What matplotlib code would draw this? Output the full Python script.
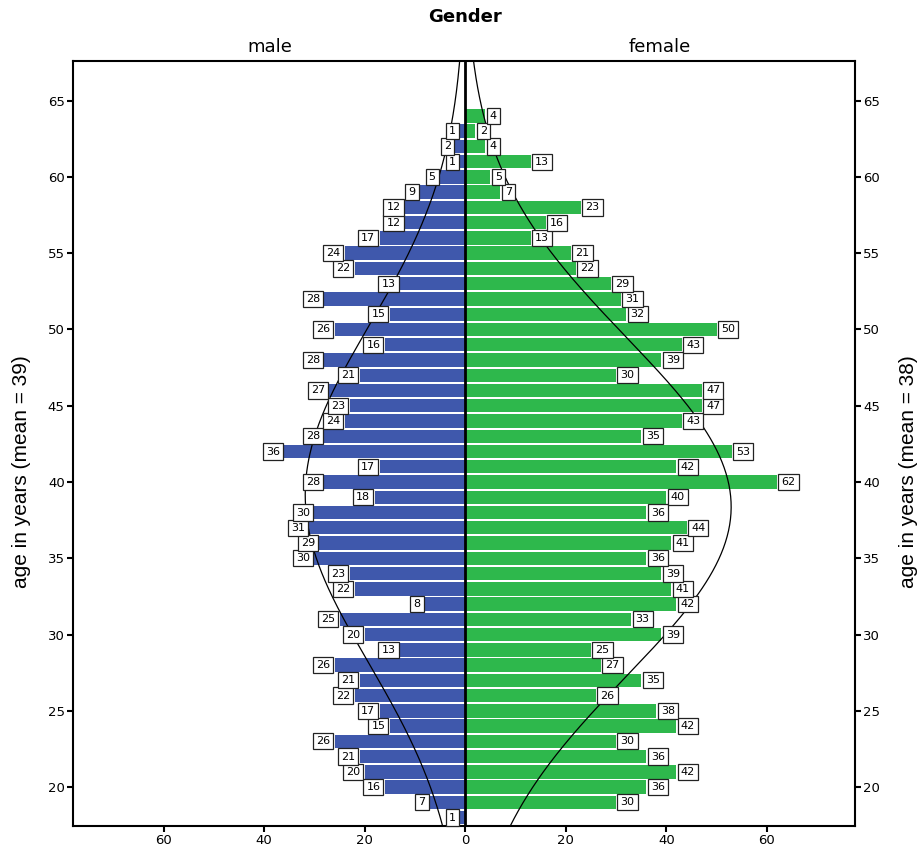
import numpy as np
import matplotlib
matplotlib.use("Agg")
import matplotlib.pyplot as plt

# ---- data ----
male_ages = list(range(18, 64))  # 18..63
male_counts = [1, 7, 16, 20, 21, 26, 15, 17, 22, 21, 26, 13, 20, 25, 8, 22, 23, 30,
               29, 31, 30, 18, 28, 17, 36, 28, 24, 23, 27, 21, 28, 16, 26, 15, 28,
               13, 22, 24, 17, 12, 12, 9, 5, 1, 2, 1]
female_ages = list(range(19, 65))  # 19..64
female_counts = [30, 36, 42, 36, 30, 42, 38, 26, 35, 27, 25, 39, 33, 42, 41, 39,
                 36, 41, 44, 36, 40, 62, 42, 53, 35, 43, 47, 47, 30, 39, 43, 50,
                 32, 31, 29, 22, 21, 13, 16, 23, 7, 5, 13, 4, 2, 4]
x_ticks = [-60, -40, -20, 0, 20, 40, 60]
y_ticks = [20, 25, 30, 35, 40, 45, 50, 55, 60, 65]
groups = ["male", "female"]
title = "Gender"

BLUE = "#3F58AC"
GREEN = "#2EB84C"

fig = plt.figure(figsize=(9.22, 8.47), dpi=100)
ax = fig.add_axes([73/922, 1-826/847, (855-73)/922, (826-61)/847])

ma = np.array(male_ages); mc = np.array(male_counts)
fa = np.array(female_ages); fc = np.array(female_counts)

ax.barh(ma, -mc, height=0.88, color=BLUE, zorder=2)
ax.barh(fa, fc, height=0.88, color=GREEN, zorder=2)

ylo, yhi = 17.45, 67.6
ax.set_xlim(-78, 77.5)
ax.set_ylim(ylo, yhi)

# normal curves from the data
def curve(ages, counts):
    n = counts.sum()
    mu = (ages * counts).sum() / n
    sd = np.sqrt(((ages - mu) ** 2 * counts).sum() / (n - 1))
    yy = np.linspace(ylo, yhi, 400)
    return yy, n * np.exp(-0.5 * ((yy - mu) / sd) ** 2) / (sd * np.sqrt(2 * np.pi))

yy, xm = curve(ma, mc)
ax.plot(-xm, yy, color="black", lw=0.9, zorder=3)
yy, xf = curve(fa, fc)
ax.plot(xf, yy, color="black", lw=0.9, zorder=3)

ax.axvline(0, color="black", lw=2, zorder=4)

bbox = dict(boxstyle="square,pad=0.28", fc="white", ec="#222222", lw=0.9)
for a, c in zip(ma, mc):
    ax.annotate(str(c), xy=(-c, a), xytext=(-3.2, 0), textcoords="offset points",
                ha="right", va="center", fontsize=8, family="DejaVu Sans",
                bbox=bbox, zorder=5)
for a, c in zip(fa, fc):
    ax.annotate(str(c), xy=(c, a), xytext=(3.2, 0), textcoords="offset points",
                ha="left", va="center", fontsize=8, family="DejaVu Sans",
                bbox=bbox, zorder=5)

for s in ax.spines.values():
    s.set_linewidth(1.5)

ax.set_xticks(x_ticks)
ax.set_xticklabels([str(abs(t)) for t in x_ticks], fontsize=9.5, family="DejaVu Sans")
ax.set_yticks(y_ticks)
ax.set_yticklabels([str(t) for t in y_ticks], fontsize=9.5, family="DejaVu Sans")
ax.tick_params(axis="both", direction="out", length=4.5, width=1.5, pad=1.5)
ax.tick_params(axis="y", left=True, right=True, labelleft=True, labelright=True)

fig.text(465/922, 1-17/847, title, ha="center", va="center", fontsize=13,
         fontweight="bold", family="DejaVu Sans")
fig.text(270/922, 1-47/847, groups[0], ha="center", va="center", fontsize=13,
         family="DejaVu Sans")
fig.text(660/922, 1-47/847, groups[1], ha="center", va="center", fontsize=13,
         family="DejaVu Sans")
fig.text(22/922, 1-472/847, "age in years (mean = 39)", rotation=90, ha="center",
         va="center", fontsize=15, family="Liberation Sans")
fig.text(908/922, 1-472/847, "age in years (mean = 38)", rotation=90, ha="center",
         va="center", fontsize=15, family="Liberation Sans")

fig.savefig("out.png", dpi=100)
